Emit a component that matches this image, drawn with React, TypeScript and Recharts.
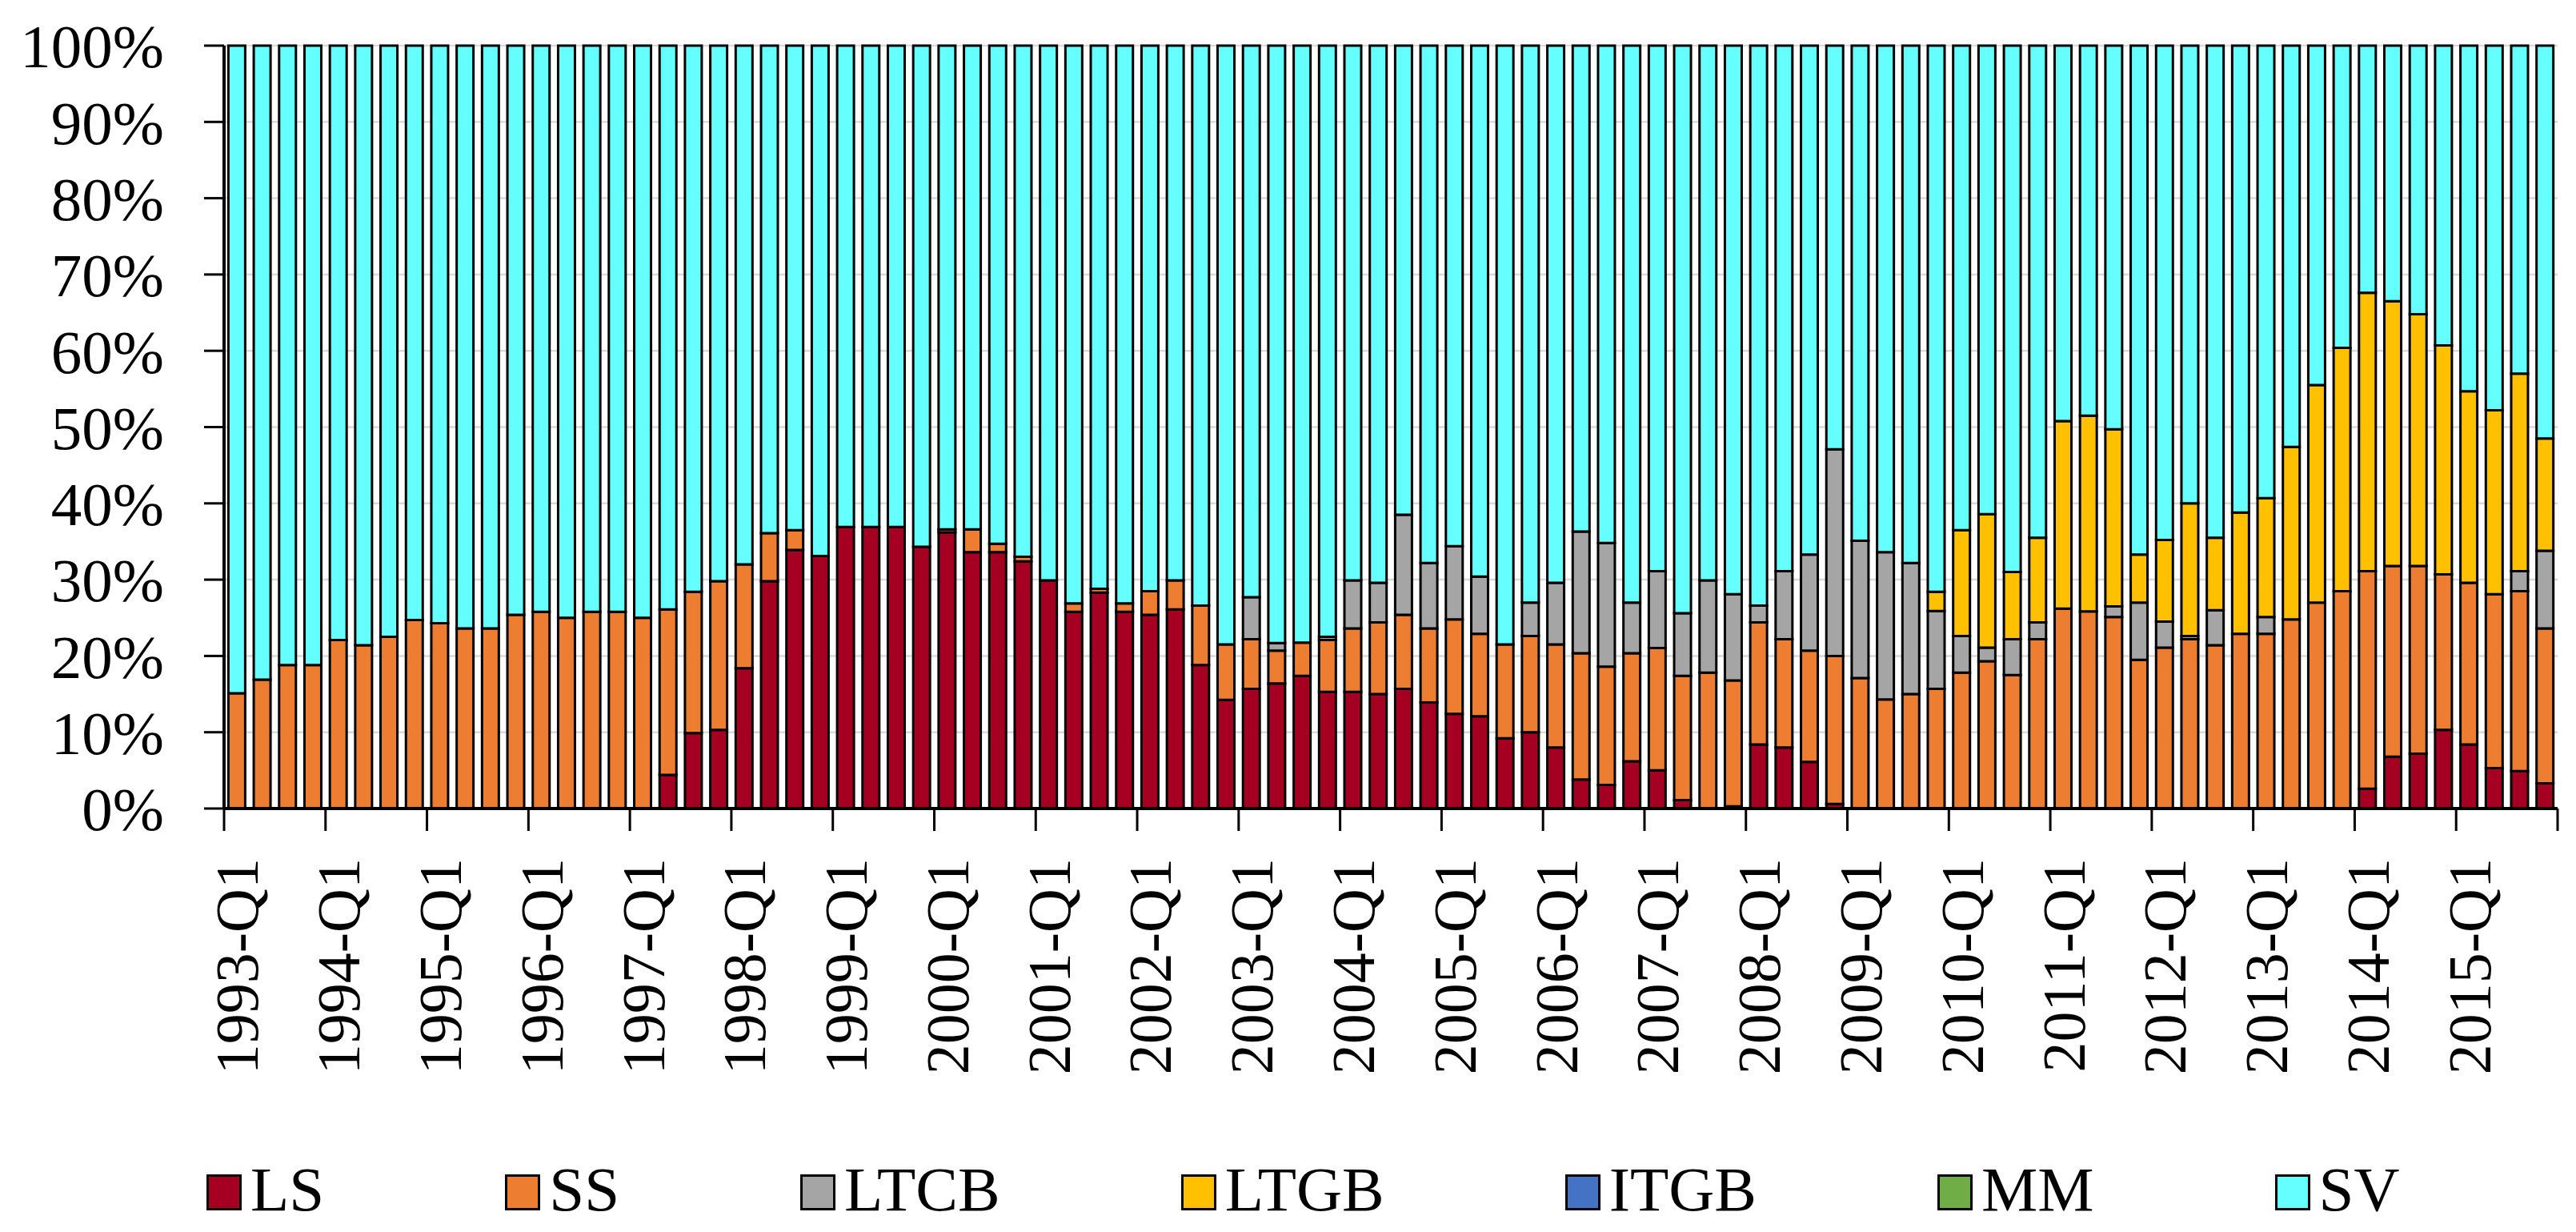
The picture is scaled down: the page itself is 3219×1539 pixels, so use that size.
import React from "react";
import { Bar, BarChart, CartesianGrid, Legend, XAxis, YAxis } from "recharts";

// categories: 1993-Q1 .. 2015-Q4
const years = [
  1993, 1994, 1995, 1996, 1997, 1998, 1999, 2000, 2001, 2002, 2003, 2004,
  2005, 2006, 2007, 2008, 2009, 2010, 2011, 2012, 2013, 2014, 2015,
];
const quarters = years.flatMap((y) => ["Q1", "Q2", "Q3", "Q4"].map((q) => `${y}-${q}`));

// shares in %, read per quarter (4 values per row = one year)
const LS = [
  0, 0, 0, 0, 0, 0, 0, 0, 0, 0, 0, 0, 0, 0, 0, 0,
  0, 4.4, 9.9, 10.3,
  18.4, 29.8, 33.9, 33.1,
  36.9, 36.9, 36.9, 34.3,
  36.2, 33.6, 33.6, 32.4,
  29.9, 25.8, 28.3, 25.8,
  25.4, 26.1, 18.8, 14.25,
  15.7, 16.4, 17.4, 15.3,
  15.3, 15.0, 15.7, 13.9,
  12.4, 12.1, 9.2, 10.0,
  8.0, 3.8, 3.1, 6.2,
  5.0, 1.1, 0, 0.3,
  8.4, 8.0, 6.1, 0.6,
  0, 0, 0, 0, 0, 0, 0, 0, 0, 0, 0, 0, 0, 0, 0, 0, 0, 0, 0, 0,
  2.6, 6.8, 7.2, 10.3,
  8.4, 5.3, 4.9, 3.3,
];

const SS = [
  15.1, 16.9, 18.8, 18.8,
  22.1, 21.4, 22.5, 24.7,
  24.3, 23.6, 23.6, 25.4,
  25.8, 25.0, 25.8, 25.8,
  25.0, 21.7, 18.5, 19.5,
  13.6, 6.3, 2.6, 0,
  0, 0, 0, 0,
  0.4, 3.0, 1.1, 0.6,
  0, 1.1, 0.5, 1.1,
  3.1, 3.8, 7.8, 7.25,
  6.5, 4.3, 4.35, 6.8,
  8.3, 9.4, 9.7, 9.7,
  12.4, 10.8, 12.3, 12.6,
  13.5, 16.55, 15.5, 14.15,
  16.05, 16.3, 17.8, 16.5,
  16.0, 14.2, 14.6, 19.4,
  17.1, 14.3, 15.0, 15.7,
  17.8, 19.3, 17.5, 22.2,
  26.2, 25.85, 25.1, 19.5,
  21.1, 22.2, 21.4, 22.9,
  22.9, 24.8, 27.0, 28.5,
  28.5, 25.0, 24.6, 20.4,
  21.2, 22.8, 23.6, 20.3,
];

const LTCB = [
  0, 0, 0, 0, 0, 0, 0, 0, 0, 0, 0, 0, 0, 0, 0, 0, 0, 0, 0, 0,
  0, 0, 0, 0, 0, 0, 0, 0, 0, 0, 0, 0, 0, 0, 0, 0, 0, 0, 0, 0,
  5.5, 1.0, 0, 0.4,
  6.3, 5.2, 13.1, 8.6,
  9.6, 7.5, 0, 4.4,
  8.1, 15.95, 16.2, 6.65,
  10.05, 8.2, 12.1, 11.3,
  2.2, 8.9, 12.6, 27.1,
  18.0, 19.3, 17.2, 10.2,
  4.8, 1.8, 4.7, 2.2,
  0, 0, 1.4, 7.5,
  3.4, 0.4, 4.6, 0,
  2.2, 0, 0, 0,
  0, 0, 0, 0,
  0, 0, 2.6, 10.2,
];

const LTGB = [
  0, 0, 0, 0, 0, 0, 0, 0, 0, 0, 0, 0, 0, 0, 0, 0, 0, 0, 0, 0,
  0, 0, 0, 0, 0, 0, 0, 0, 0, 0, 0, 0, 0, 0, 0, 0, 0, 0, 0, 0,
  0, 0, 0, 0, 0, 0, 0, 0, 0, 0, 0, 0, 0, 0, 0, 0, 0, 0, 0, 0,
  0, 0, 0, 0,
  0, 0, 0, 2.5,
  13.9, 17.5, 8.8, 11.1,
  24.6, 25.65, 23.2, 6.3,
  10.7, 17.4, 9.5, 15.9,
  15.6, 22.6, 28.5, 31.9,
  36.5, 34.7, 33.0, 30.0,
  25.1, 24.1, 25.9, 14.7,
];

const ITGB = [
  0, 0, 0, 0, 0, 0, 0, 0, 0, 0, 0, 0, 0, 0, 0, 0, 0, 0, 0, 0, 0, 0, 0,
  0, 0, 0, 0, 0, 0, 0, 0, 0, 0, 0, 0, 0, 0, 0, 0, 0, 0, 0, 0, 0, 0, 0,
  0, 0, 0, 0, 0, 0, 0, 0, 0, 0, 0, 0, 0, 0, 0, 0, 0, 0, 0, 0, 0, 0, 0,
  0, 0, 0, 0, 0, 0, 0, 0, 0, 0, 0, 0, 0, 0, 0, 0, 0, 0, 0, 0, 0, 0, 0,
];

const MM = [
  0, 0, 0, 0, 0, 0, 0, 0, 0, 0, 0, 0, 0, 0, 0, 0, 0, 0, 0, 0, 0, 0, 0,
  0, 0, 0, 0, 0, 0, 0, 0, 0, 0, 0, 0, 0, 0, 0, 0, 0, 0, 0, 0, 0, 0, 0,
  0, 0, 0, 0, 0, 0, 0, 0, 0, 0, 0, 0, 0, 0, 0, 0, 0, 0, 0, 0, 0, 0, 0,
  0, 0, 0, 0, 0, 0, 0, 0, 0, 0, 0, 0, 0, 0, 0, 0, 0, 0, 0, 0, 0, 0, 0,
];

const SV = [
  84.9, 83.1, 81.2, 81.2,
  77.9, 78.6, 77.5, 75.3,
  75.7, 76.4, 76.4, 74.6,
  74.2, 75.0, 74.2, 74.2,
  75.0, 73.9, 71.6, 70.2,
  68.0, 63.9, 63.5, 66.9,
  63.1, 63.1, 63.1, 65.7,
  63.4, 63.4, 65.3, 67.0,
  70.1, 73.1, 71.2, 73.1,
  71.5, 70.1, 73.4, 78.5,
  72.3, 78.3, 78.25, 77.5,
  70.1, 70.4, 61.5, 67.8,
  65.6, 69.6, 78.5, 73.0,
  70.4, 63.7, 65.2, 73.0,
  68.9, 74.4, 70.1, 71.9,
  73.4, 68.9, 66.7, 52.9,
  64.9, 66.4, 67.8, 71.6,
  63.5, 61.4, 69.0, 64.5,
  49.2, 48.5, 50.3, 66.7,
  64.8, 60.0, 64.5, 61.2,
  59.3, 52.6, 44.5, 39.6,
  32.4, 33.5, 35.2, 39.3,
  45.3, 47.8, 43.0, 51.5,
];

const yTicks = [0, 0.1, 0.2, 0.3, 0.4, 0.5, 0.6, 0.7, 0.8, 0.9, 1];

const series = [
  { key: "LS", color: "#a50021" },
  { key: "SS", color: "#ed7d31" },
  { key: "LTCB", color: "#a5a5a5" },
  { key: "LTGB", color: "#ffc000" },
  { key: "ITGB", color: "#4472c4" },
  { key: "MM", color: "#70ad47" },
  { key: "SV", color: "#66ffff" },
];

const data = quarters.map((q, i) => ({
  q,
  LS: LS[i],
  SS: SS[i],
  LTCB: LTCB[i],
  LTGB: LTGB[i],
  ITGB: ITGB[i],
  MM: MM[i],
  SV: SV[i],
}));

const W = 3219;
const H = 1539;
const LEFT = 280;
const RIGHT = 23;
const TOP = 57;
const PLOT_BOTTOM = 1010;
const LEGEND_H = 100;
const BAND = (W - LEFT - RIGHT) / quarters.length;
const FONT = '"Liberation Serif", "Times New Roman", serif';
const LAST_LABEL = quarters[quarters.length - 4];

// labels sit on the Q1 bar, tick marks sit on the year boundaries
function QuarterTick(props: any) {
  const { x, y, payload } = props;
  const left = x - BAND / 2;
  const ly = y + 62;
  return (
    <g>
      <line x1={left} x2={left} y1={y} y2={y + 28} stroke="#000" strokeWidth={3} />
      {payload.value === LAST_LABEL && (
        <line
          x1={left + 4 * BAND}
          x2={left + 4 * BAND}
          y1={y}
          y2={y + 28}
          stroke="#000"
          strokeWidth={3}
        />
      )}
      <text
        x={x}
        y={ly}
        transform={`rotate(-90 ${x} ${ly})`}
        textAnchor="end"
        dy="0.35em"
        fontSize={76}
        fontFamily={FONT}
        fill="#000"
      >
        {payload.value}
      </text>
    </g>
  );
}

function LegendRow() {
  return (
    <div
      style={{
        display: "flex",
        alignItems: "baseline",
        paddingLeft: 258,
        paddingTop: 7,
        gap: 226,
        height: LEGEND_H,
        boxSizing: "border-box",
        fontFamily: FONT,
        fontSize: 79,
        lineHeight: "79px",
        color: "#000",
      }}
    >
      {series.map((s) => (
        <div key={s.key} style={{ display: "flex", alignItems: "baseline" }}>
          <span
            style={{
              display: "inline-block",
              width: 44,
              height: 45,
              background: s.color,
              border: "3px solid #000",
              boxSizing: "border-box",
              marginRight: 11,
            }}
          />
          <span>{s.key}</span>
        </div>
      ))}
    </div>
  );
}

export default function App() {
  return (
    <div style={{ position: "absolute", left: 0, top: 0, width: W, height: H, background: "#fff" }}>
      <BarChart
        width={W}
        height={H}
        data={data}
        stackOffset="expand"
        barCategoryGap="17%"
        margin={{ top: TOP, right: RIGHT, bottom: 0, left: 0 }}
      >
        <CartesianGrid vertical={false} stroke="#d9d9d9" strokeWidth={2.5} />
        <XAxis
          dataKey="q"
          interval={3}
          height={H - LEGEND_H - PLOT_BOTTOM}
          tickSize={0}
          tickMargin={0}
          tickLine={false}
          axisLine={{ stroke: "#000", strokeWidth: 4 }}
          tick={<QuarterTick />}
        />
        <YAxis
          width={LEFT}
          domain={[0, 1]}
          ticks={yTicks}
          tickFormatter={(v: number) => `${Math.round(v * 100)}%`}
          tickSize={25}
          tickMargin={50}
          axisLine={{ stroke: "#000", strokeWidth: 4 }}
          tickLine={{ stroke: "#000", strokeWidth: 3 }}
          tick={{ fontSize: 77, fontFamily: FONT, fill: "#000" }}
        />
        <Legend
          verticalAlign="bottom"
          align="left"
          content={() => <LegendRow />}
          wrapperStyle={{ left: 0, width: W, height: LEGEND_H }}
        />
        {series.map((s) => (
          <Bar
            key={s.key}
            dataKey={s.key}
            stackId="a"
            fill={s.color}
            stroke="#000"
            strokeWidth={3}
            isAnimationActive={false}
          />
        ))}
      </BarChart>
    </div>
  );
}
